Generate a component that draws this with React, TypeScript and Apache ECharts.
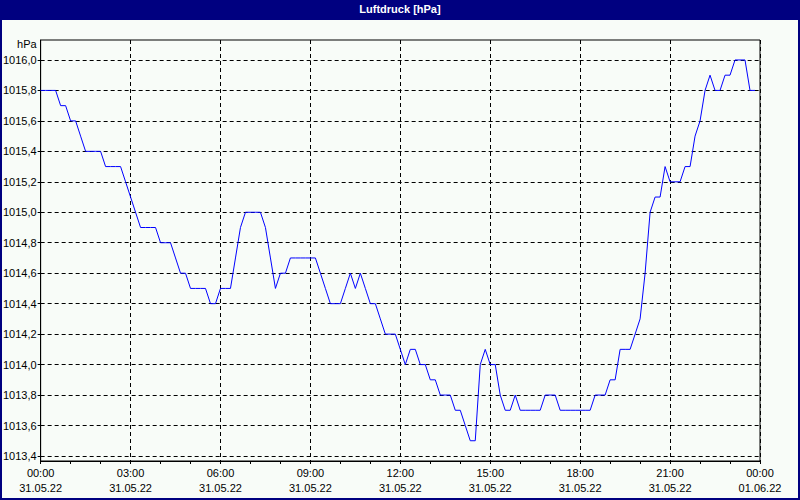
import React, { useEffect, useRef } from "react";
import * as echarts from "echarts";

// time in minutes since 31.05.22 00:00, 10-minute steps
const pressure: number[] = [
  1015.8, 1015.8, 1015.8, 1015.8, 1015.7, 1015.7, 1015.6, 1015.6, 1015.5, 1015.4,
  1015.4, 1015.4, 1015.4, 1015.3, 1015.3, 1015.3, 1015.3, 1015.2, 1015.1, 1015.0,
  1014.9, 1014.9, 1014.9, 1014.9, 1014.8, 1014.8, 1014.8, 1014.7, 1014.6, 1014.6,
  1014.5, 1014.5, 1014.5, 1014.5, 1014.4, 1014.4, 1014.5, 1014.5, 1014.5, 1014.7,
  1014.9, 1015.0, 1015.0, 1015.0, 1015.0, 1014.9, 1014.7, 1014.5, 1014.6, 1014.6,
  1014.7, 1014.7, 1014.7, 1014.7, 1014.7, 1014.7, 1014.6, 1014.5, 1014.4, 1014.4,
  1014.4, 1014.5, 1014.6, 1014.5, 1014.6, 1014.5, 1014.4, 1014.4, 1014.3, 1014.2,
  1014.2, 1014.2, 1014.1, 1014.0, 1014.1, 1014.1, 1014.0, 1014.0, 1013.9, 1013.9,
  1013.8, 1013.8, 1013.8, 1013.7, 1013.7, 1013.6, 1013.5, 1013.5, 1014.0, 1014.1,
  1014.0, 1014.0, 1013.8, 1013.7, 1013.7, 1013.8, 1013.7, 1013.7, 1013.7, 1013.7,
  1013.7, 1013.8, 1013.8, 1013.8, 1013.7, 1013.7, 1013.7, 1013.7, 1013.7, 1013.7,
  1013.7, 1013.8, 1013.8, 1013.8, 1013.9, 1013.9, 1014.1, 1014.1, 1014.1, 1014.2,
  1014.3, 1014.6, 1015.0, 1015.1, 1015.1, 1015.3, 1015.2, 1015.2, 1015.2, 1015.3,
  1015.3, 1015.5, 1015.6, 1015.8, 1015.9, 1015.8, 1015.8, 1015.9, 1015.9, 1016.0,
  1016.0, 1016.0, 1015.8, 1015.8,
];
const stepMinutes = 10;

const yTicks: number[] = [
  1013.4, 1013.6, 1013.8, 1014.0, 1014.2, 1014.4, 1014.6, 1014.8,
  1015.0, 1015.2, 1015.4, 1015.6, 1015.8, 1016.0,
];
const yMin = 1013.367;
const yMax = 1016.131;

const xTickHours: string[] = ["00:00", "03:00", "06:00", "09:00", "12:00", "15:00", "18:00", "21:00", "00:00"];
const xTickDates: string[] = ["31.05.22", "31.05.22", "31.05.22", "31.05.22", "31.05.22", "31.05.22", "31.05.22", "31.05.22", "01.06.22"];

const title = "Luftdruck [hPa]";
const unit = "hPa";

const FONT = "'Liberation Sans Narrow', 'Liberation Sans', Arial, sans-serif";

export default function App() {
  const ref = useRef<HTMLDivElement>(null);
  useEffect(() => {
    if (!ref.current) return;
    const chart = echarts.init(ref.current, undefined, { renderer: "svg" });
    const data = pressure.map((v, i) => [i * stepMinutes, v]);
    chart.setOption({
      animation: false,
      backgroundColor: "#f8fcf8",
      textStyle: { fontFamily: FONT },
      title: {
        text: title,
        left: "center",
        top: 2,
        padding: 0,
        textStyle: { color: "#ffffff", fontSize: 11, fontWeight: "bold", fontFamily: "'Liberation Sans', Arial, sans-serif", lineHeight: 13 },
      },
      graphic: [
        { type: "rect", z: -1, shape: { x: 0, y: 0, width: 800, height: 20 }, style: { fill: "#000080" } },
        { type: "rect", z: 100, shape: { x: 1, y: 1, width: 798, height: 498 }, style: { fill: "none", stroke: "#000080", lineWidth: 2 } },
      ],
      grid: {
        left: 40, right: 40, top: 40, bottom: 39,
        show: true, borderColor: "#000000", borderWidth: 1, backgroundColor: "transparent",
      },
      xAxis: {
        type: "value",
        position: "bottom",
        min: 0,
        max: 1440,
        interval: 180,
        axisLine: { show: true, lineStyle: { color: "#000000", width: 1 } },
        axisTick: { show: true, length: 3, lineStyle: { color: "#000000" } },
        minorTick: { show: true, splitNumber: 3, length: 3, lineStyle: { color: "#000000" } },
        splitLine: { show: true, lineStyle: { color: "#000000", type: [4, 3], width: 1 } },
        axisLabel: {
          margin: 4,
          color: "#000000",
          fontSize: 11,
          lineHeight: 15,
          fontFamily: FONT,
          formatter: (v: number) => {
            const k = Math.round(v / 180);
            return xTickHours[k] + "\n" + xTickDates[k];
          },
        },
      },
      yAxis: {
        type: "value",
        min: yMin,
        max: yMax,
        name: unit,
        nameLocation: "end",
        nameGap: -4,
        nameTextStyle: { color: "#000000", fontSize: 11, align: "right", verticalAlign: "middle", padding: [0, 4, 0, 0], fontFamily: FONT },
        axisLine: { show: true, lineStyle: { color: "#000000", width: 1 } },
        axisTick: { show: true, length: 3, customValues: yTicks, lineStyle: { color: "#000000" } },
        splitLine: { show: true, lineStyle: { color: "#000000", type: [4, 3], width: 1 } },
        axisLabel: {
          customValues: yTicks,
          margin: 4,
          color: "#000000",
          fontSize: 11,
          fontFamily: FONT,
          formatter: (v: number) => v.toFixed(1).replace(".", ","),
        },
      },
      series: [
        {
          type: "line",
          data,
          showSymbol: false,
          symbol: "none",
          lineStyle: { color: "#0000ff", width: 1 },
          itemStyle: { color: "#0000ff" },
        },
      ],
    });
    return () => chart.dispose();
  }, []);
  return (
    <div
      ref={ref}
      style={{ position: "fixed", left: 0, top: 0, width: 800, height: 500 }}
    />
  );
}
